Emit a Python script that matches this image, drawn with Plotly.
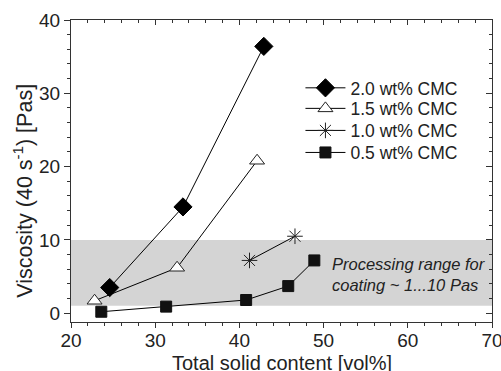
import plotly.graph_objects as go

# data
cmc20_x = [24.6, 33.3, 42.9]
cmc20_y = [3.5, 14.5, 36.4]
cmc15_x = [22.8, 32.6, 42.1]
cmc15_y = [1.7, 6.2, 20.8]
cmc10_x = [41.2, 46.6]
cmc10_y = [7.2, 10.5]
cmc05_x = [23.6, 31.3, 40.8, 45.8, 48.9]
cmc05_y = [0.2, 0.9, 1.8, 3.7, 7.2]
band_low, band_high = 1, 10
x_range = [20, 70]
y_range = [-1.2, 40]

FONT = "Liberation Sans, Arial, sans-serif"
TXT = "#222"

fig = go.Figure()
series = [
    ("2.0 wt% CMC", cmc20_x, cmc20_y, dict(symbol="diamond", size=14, color="black", line=dict(color="black", width=1)), "legend"),
    ("1.5 wt% CMC", cmc15_x, cmc15_y, dict(symbol="triangle-up", size=13, color="white", line=dict(color="#222", width=1)), "legend2"),
    ("1.0 wt% CMC", cmc10_x, cmc10_y, dict(symbol="asterisk-open", size=13, color="#222", line=dict(color="#222", width=1)), "legend3"),
    ("0.5 wt% CMC", cmc05_x, cmc05_y, dict(symbol="square", size=11, color="#111", line=dict(color="#111", width=1)), "legend4"),
]
for name, xs, ys, mk, lg in series:
    fig.add_trace(go.Scatter(x=xs, y=ys, name=name, mode="lines+markers",
                             line=dict(color="black", width=1), marker=mk, legend=lg))

fig.add_shape(type="rect", xref="x", yref="y", x0=x_range[0], x1=x_range[1],
              y0=band_low, y1=band_high, fillcolor="#d4d4d4", line=dict(width=0), layer="below")

fig.add_annotation(x=50.8, y=5.3, xref="x", yref="y", xanchor="left", yanchor="middle",
                   text="<i>Processing range for<br>coating ~ 1...10 Pas</i>", showarrow=False,
                   align="left", font=dict(family=FONT, size=16.5, color=TXT))

# axis titles
fig.add_annotation(x=0.5, y=-0.136, xref="paper", yref="paper", xanchor="center", yanchor="middle",
                   text="Total solid content [vol%]", showarrow=False,
                   font=dict(family=FONT, size=20, color=TXT))
fig.add_annotation(x=-0.114, y=0.435, xref="paper", yref="paper", xanchor="center", yanchor="middle",
                   text="Viscosity (40 s<sup>-1</sup>) [Pas]", showarrow=False, textangle=-90,
                   font=dict(family=FONT, size=21.5, color=TXT))

# invisible trace for mirrored axes
fig.add_trace(go.Scatter(x=x_range, y=y_range, xaxis="x2", yaxis="y2", showlegend=False,
                         mode="markers", marker=dict(opacity=0), hoverinfo="skip"))

axis_common = dict(showgrid=False, zeroline=False, linecolor="#333", linewidth=1,
                   tickcolor="#333", automargin=False)
leg_common = dict(x=0.545, xanchor="left", yanchor="middle", bgcolor="rgba(0,0,0,0)",
                  font=dict(family=FONT, size=17.5, color=TXT), itemwidth=40)
fig.update_layout(
    width=501, height=371,
    margin=dict(l=71, r=9, t=20, b=49),
    plot_bgcolor="white", paper_bgcolor="white",
    font=dict(family=FONT, color=TXT),
    showlegend=True,
    legend=dict(y=0.775, **leg_common),
    legend2=dict(y=0.707, **leg_common),
    legend3=dict(y=0.634, **leg_common),
    legend4=dict(y=0.561, **leg_common),
    xaxis=dict(range=x_range, dtick=10, ticks="outside", ticklen=5, ticklabeloverflow="allow",
               ticklabelstandoff=-4,
               tickfont=dict(family=FONT, size=19, color=TXT),
               minor=dict(dtick=2, ticks="outside", ticklen=3, tickcolor="#333"),
               **axis_common),
    yaxis=dict(range=y_range, dtick=10, tick0=0, ticks="outside", ticklen=6, ticklabeloverflow="allow",
               tickfont=dict(family=FONT, size=19, color=TXT),
               minor=dict(dtick=2, tick0=0, ticks="outside", ticklen=3, tickcolor="#333"),
               **axis_common),
    xaxis2=dict(range=x_range, overlaying="x", side="top", dtick=10, ticks="inside", ticklen=5,
                minor=dict(dtick=2, ticks="inside", ticklen=3, tickcolor="#333"),
                showticklabels=False, **axis_common),
    yaxis2=dict(range=y_range, overlaying="y", side="right", dtick=10, tick0=0, ticks="inside", ticklen=6,
                minor=dict(dtick=2, tick0=0, ticks="inside", ticklen=3, tickcolor="#333"),
                showticklabels=False, **axis_common),
)
fig.write_html("out.html", config={"displayModeBar": False},
               post_script="document.body.style.margin='0';document.body.style.overflow='hidden';")
